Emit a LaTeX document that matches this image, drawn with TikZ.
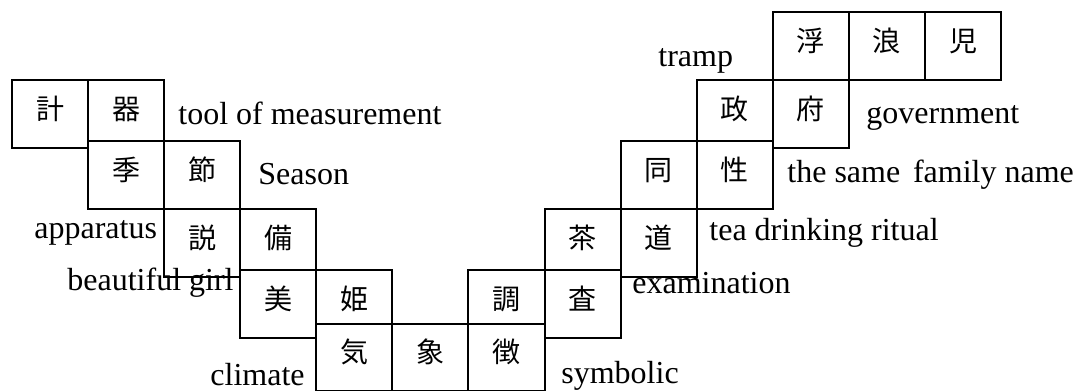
\documentclass[tikz,border=0pt]{standalone}
\usepackage{fontspec}
\setmainfont{Liberation Serif}
\newfontfamily\cjk{Noto Sans CJK JP}
\begin{document}
\begin{tikzpicture}[x=0.5pt,y=-0.5pt,
  cell/.style={draw, fill=white, line width=1pt, minimum width=38.04pt,
    minimum height=34pt, inner sep=0pt, anchor=north west,
    font=\cjk\fontsize{14}{14}\selectfont, text height=11.6pt, text depth=6pt},
  lowcell/.style={cell, minimum height=33.3pt, text height=11.2pt, text depth=6pt},
  gloss/.style={inner sep=0pt, anchor=base west, font=\fontsize{16}{19}\selectfont}]
\useasboundingbox (0,0) rectangle (1078,391);
% 浮浪児
\node[cell] (fu)  at (771.8,11) {浮};
\node[cell] (rou) at (847.88,11) {浪};
\node[cell] (ji)  at (923.96,11) {児};
% 計器
\node[cell] (kei) at (11,79) {計};
\node[cell] (ki)  at (87.08,79) {器};
% 政府
\node[cell] (sei) at (695.72,79) {政};
\node[cell] (fu2) at (771.8,79) {府};
% 季節
\node[cell] (kisetsu1) at (87.08,140) {季};
\node[cell] (kisetsu2) at (163.16,140) {節};
% 同性
\node[cell] (dou) at (619.64,140) {同};
\node[cell] (sei2) at (695.72,140) {性};
% 説備
\node[cell] (setsu) at (163.16,208) {説};
\node[cell] (bi)    at (239.24,208) {備};
% 茶道
\node[cell] (sa)  at (543.56,208) {茶};
\node[cell] (dou2) at (619.64,208) {道};
% 美姫
\node[cell] (bi2) at (239.24,269) {美};
\node[cell] (hime) at (315.32,269) {姫};
% 調査
\node[cell] (chou) at (467.48,269) {調};
\node[cell] (satei) at (543.56,269) {査};
% 気象徴
\node[lowcell] (kishou1) at (315.32,323) {気};
\node[lowcell] (kishou2) at (391.4,323) {象};
\node[lowcell] (chou2)   at (467.48,323) {徴};
% glosses
\node[gloss] (g1) at (658,67) {tramp};
\node[gloss] (g2) at (178,124) {tool of measurement};
\node[gloss] (g3) at (866,123) {government};
\node[gloss] (g4) at (258,184) {Season};
\node[gloss] (g5) at (787,182) {the same\hspace{0.4em}family name};
\node[gloss] (g6) at (709,240) {tea drinking ritual};
\node[gloss] (g7) at (34,238) {apparatus};
\node[gloss] (g8) at (67,290) {beautiful girl};
\node[gloss] (g9) at (632,293) {examination};
\node[gloss] (g10) at (210,385) {climate};
\node[gloss] (g11) at (561,383) {symbolic};
\end{tikzpicture}
\end{document}
